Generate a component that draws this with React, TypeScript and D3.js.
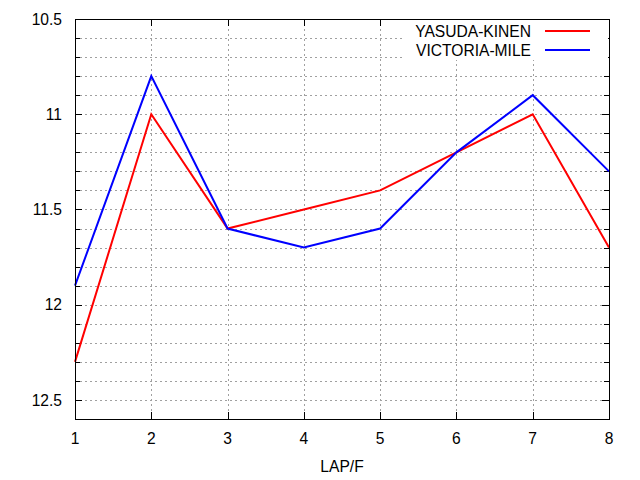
import * as d3 from "d3";
import React, { useEffect, useRef } from "react";

const laps = [1, 2, 3, 4, 5, 6, 7, 8];
const yasudaKinen = [12.3, 11.0, 11.6, 11.5, 11.4, 11.2, 11.0, 11.7];
const victoriaMile = [11.9, 10.8, 11.6, 11.7, 11.6, 11.2, 10.9, 11.3];
const yTickLabels = ["10.5", "11", "11.5", "12", "12.5"];

const series = [
  { name: "YASUDA-KINEN", values: yasudaKinen, color: "#ff0000" },
  { name: "VICTORIA-MILE", values: victoriaMile, color: "#0000ff" },
];

const App = () => {
  const ref = useRef<SVGSVGElement | null>(null);

  useEffect(() => {
    const svg = d3.select(ref.current);
    svg.selectAll("*").remove();

    const width = 640;
    const height = 480;
    const margin = { top: 19, right: 31, bottom: 61, left: 75 };
    const font = "'Liberation Sans', Arial, sans-serif";
    const fontSize = 15.6;

    const x = d3
      .scaleLinear()
      .domain([1, 8])
      .range([margin.left, width - margin.right]);

    const y = d3
      .scaleLinear()
      .domain([10.5, 12.6])
      .range([margin.top, height - margin.bottom]);

    svg.append("rect").attr("width", width).attr("height", height).attr("fill", "#fff");

    const minorY = d3.range(0, 22).map((i) => +(10.5 + i * 0.1).toFixed(1));
    const majorY = yTickLabels.map(Number);

    // grid
    const grid = svg.append("g").attr("stroke", "#a0a0a0").attr("stroke-width", 1).attr("stroke-dasharray", "2,3");
    grid
      .selectAll("line.gy")
      .data(minorY.filter((v) => v > 10.5))
      .enter()
      .append("line")
      .attr("x1", margin.left)
      .attr("x2", width - margin.right)
      .attr("y1", (d) => Math.round(y(d)) + 0.5)
      .attr("y2", (d) => Math.round(y(d)) + 0.5);
    grid
      .selectAll("line.gx")
      .data(laps.slice(1, -1))
      .enter()
      .append("line")
      .attr("y1", margin.top)
      .attr("y2", height - margin.bottom)
      .attr("x1", (d) => Math.round(x(d)) + 0.5)
      .attr("x2", (d) => Math.round(x(d)) + 0.5);

    // ticks
    const ticks = svg.append("g").attr("stroke", "#000").attr("stroke-width", 1);
    minorY.forEach((v) => {
      const len = majorY.includes(v) ? 7 : 5;
      const yy = Math.round(y(v)) + 0.5;
      ticks.append("line").attr("x1", x(1)).attr("x2", x(1) + len).attr("y1", yy).attr("y2", yy);
      ticks.append("line").attr("x1", x(8)).attr("x2", x(8) - len).attr("y1", yy).attr("y2", yy);
    });
    laps.forEach((v) => {
      const xx = Math.round(x(v)) + 0.5;
      ticks.append("line").attr("x1", xx).attr("x2", xx).attr("y1", y(12.6)).attr("y2", y(12.6) - 7);
      ticks.append("line").attr("x1", xx).attr("x2", xx).attr("y1", y(10.5)).attr("y2", y(10.5) + 7);
    });

    // lines
    const line = d3
      .line<number>()
      .x((_, i) => x(laps[i]))
      .y((d) => y(d));

    series.forEach((s) => {
      svg
        .append("path")
        .attr("d", line(s.values)!)
        .attr("fill", "none")
        .attr("stroke", s.color)
        .attr("stroke-width", 2)
        .attr("stroke-linejoin", "miter");
    });

    // legend
    svg.append("rect").attr("x", 405).attr("y", 20).attr("width", 203).attr("height", 40).attr("fill", "#fff");
    series.forEach((s, i) => {
      const ly = 31 + i * 19;
      svg
        .append("text")
        .attr("x", 531)
        .attr("y", ly)
        .attr("dy", "0.36em")
        .attr("text-anchor", "end")
        .attr("font-family", font)
        .attr("font-size", fontSize)
        .text(s.name);
      svg
        .append("line")
        .attr("x1", 545)
        .attr("x2", 590)
        .attr("y1", ly)
        .attr("y2", ly)
        .attr("stroke", s.color)
        .attr("stroke-width", 2);
    });

    // border
    svg
      .append("rect")
      .attr("x", margin.left + 0.5)
      .attr("y", margin.top + 0.5)
      .attr("width", width - margin.right - margin.left)
      .attr("height", height - margin.bottom - margin.top)
      .attr("fill", "none")
      .attr("stroke", "#000")
      .attr("stroke-width", 1);

    // tick labels
    svg
      .append("g")
      .selectAll("text")
      .data(yTickLabels)
      .enter()
      .append("text")
      .attr("x", 62)
      .attr("y", (d) => y(+d))
      .attr("dy", "0.36em")
      .attr("text-anchor", "end")
      .attr("font-family", font)
      .attr("font-size", fontSize)
      .text((d) => d);

    svg
      .append("g")
      .selectAll("text")
      .data(laps)
      .enter()
      .append("text")
      .attr("x", (d) => x(d))
      .attr("y", 438)
      .attr("dy", "0.36em")
      .attr("text-anchor", "middle")
      .attr("font-family", font)
      .attr("font-size", fontSize)
      .text((d) => String(d));

    svg
      .append("text")
      .attr("x", 342)
      .attr("y", 466)
      .attr("dy", "0.36em")
      .attr("text-anchor", "middle")
      .attr("font-family", font)
      .attr("font-size", fontSize)
      .text("LAP/F");
  }, []);

  return (
    <svg
      ref={ref}
      width={640}
      height={480}
      style={{ position: "absolute", left: 0, top: 0, display: "block" }}
    />
  );
};

export default App;
